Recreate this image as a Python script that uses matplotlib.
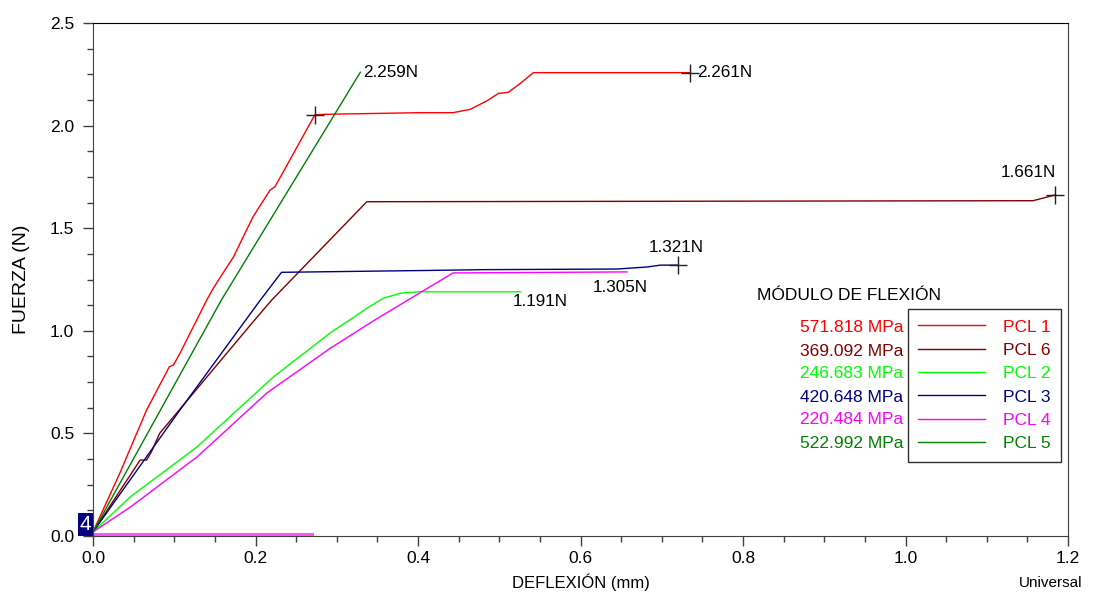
import matplotlib
matplotlib.use("Agg")
import matplotlib.pyplot as plt
from matplotlib.ticker import MultipleLocator

plt.rcParams['font.family'] = ['Liberation Sans', 'DejaVu Sans']

# curves (deflexion mm, fuerza N)
pcl1_x = [0, 0.033, 0.066, 0.094, 0.099, 0.107, 0.140, 0.148, 0.173, 0.197, 0.218, 0.224,
          0.232, 0.273, 0.286, 0.402, 0.443, 0.464, 0.485, 0.499, 0.511, 0.526, 0.542, 0.735]
pcl1_y = [0.02, 0.306, 0.614, 0.825, 0.833, 0.890, 1.150, 1.207, 1.361, 1.556, 1.686, 1.702,
          1.759, 2.052, 2.055, 2.063, 2.063, 2.079, 2.121, 2.157, 2.162, 2.206, 2.258, 2.258]

pcl6_x = [0, 0.058, 0.066, 0.072, 0.082, 0.199, 0.220, 0.337, 1.157, 1.184]
pcl6_y = [0.02, 0.370, 0.370, 0.411, 0.500, 1.053, 1.150, 1.629, 1.634, 1.662]

pcl2_x = [0, 0.046, 0.128, 0.222, 0.292, 0.316, 0.337, 0.357, 0.378, 0.400, 0.526]
pcl2_y = [0.02, 0.191, 0.434, 0.775, 0.990, 1.053, 1.110, 1.158, 1.183, 1.190, 1.190]

pcl3_x = [0, 0.107, 0.206, 0.232, 0.330, 0.410, 0.480, 0.645, 0.682, 0.698, 0.720]
pcl3_y = [0.02, 0.614, 1.150, 1.285, 1.290, 1.294, 1.298, 1.301, 1.311, 1.320, 1.320]

pcl4_x = [0, 0.046, 0.128, 0.214, 0.292, 0.347, 0.443, 0.657]
pcl4_y = [0.02, 0.141, 0.385, 0.697, 0.915, 1.053, 1.282, 1.287]
pcl4_base_x = [0, 0.27]
pcl4_base_y = [0.01, 0.01]

pcl5_x = [0, 0.158, 0.329]
pcl5_y = [0.02, 1.150, 2.260]

legend_names = ['PCL 1', 'PCL 6', 'PCL 2', 'PCL 3', 'PCL 4', 'PCL 5']
moduli = [571.818, 369.092, 246.683, 420.648, 220.484, 522.992]
colors = ['#ff0000', '#800000', '#00ff00', '#000080', '#ff00ff', '#008000']

fig = plt.figure(figsize=(10.94, 5.93), dpi=100)
ax = fig.add_axes([93/1094, 1 - 536/593, (1068 - 93)/1094, (536 - 23)/593])

series = [(pcl1_x, pcl1_y), (pcl6_x, pcl6_y), (pcl2_x, pcl2_y),
          (pcl3_x, pcl3_y), (pcl4_x, pcl4_y), (pcl5_x, pcl5_y)]
handles = []
for (xs, ys), c, n in zip(series, colors, legend_names):
    h, = ax.plot(xs, ys, color=c, lw=1.0, label=n)
    handles.append(h)
ax.plot(pcl4_base_x, pcl4_base_y, color='#ff55ff', lw=2.2)

# break / peak markers
cross = dict(marker='+', color='#202020', ms=13, mew=1.0, ls='none')
ax.plot([pcl1_x[13]], [pcl1_y[13]], **cross)
ax.plot([pcl1_x[-1]], [pcl1_y[-1]], **cross)
ax.plot([pcl6_x[-1]], [pcl6_y[-1]], **cross)
ax.plot([pcl3_x[-1]], [pcl3_y[-1]], **cross)

lab = dict(fontsize=12.3, color='black', textcoords='offset points')
ax.annotate('2.259N', (pcl5_x[-1], pcl5_y[-1]), xytext=(2, 0), ha='left', va='center', **lab)
ax.annotate('2.261N', (pcl1_x[-1], pcl1_y[-1]), xytext=(5, 0), ha='left', va='center', **lab)
ax.annotate('1.661N', (pcl6_x[-1], pcl6_y[-1]), xytext=(1, 16), ha='right', va='center', **lab)
ax.annotate('1.321N', (pcl3_x[-1], pcl3_y[-1]), xytext=(-1, 13), ha='center', va='center', **lab)
ax.annotate('1.305N', (pcl4_x[-1], pcl4_y[-1]), xytext=(-5, -11), ha='center', va='center', **lab)
ax.annotate('1.191N', (pcl2_x[-1], pcl2_y[-1]), xytext=(14, -7), ha='center', va='center', **lab)

ax.text(-0.002, 0.008, '4', color='white', fontsize=15, ha='right', va='bottom',
        bbox=dict(boxstyle='square,pad=0.1', fc='#000080', ec='none'))

ax.set_xlim(0, 1.2)
ax.set_ylim(0, 2.5)
ax.xaxis.set_major_locator(MultipleLocator(0.2))
ax.xaxis.set_minor_locator(MultipleLocator(0.05))
ax.yaxis.set_major_locator(MultipleLocator(0.5))
ax.yaxis.set_minor_locator(MultipleLocator(0.125))
ax.xaxis.set_major_formatter(plt.FormatStrFormatter('%.1f'))
ax.yaxis.set_major_formatter(plt.FormatStrFormatter('%.1f'))
ax.tick_params(which='major', length=7.5, width=1, color='#404040', labelsize=12.5)
ax.tick_params(which='minor', length=4, width=1, color='#404040')
ax.tick_params(axis='x', which='major', pad=3)
ax.tick_params(axis='y', which='major', pad=6)
for s in ax.spines.values():
    s.set_color('#404040')
ax.spines['top'].set_color('black')

ax.set_xlabel('DEFLEXIÓN (mm)', fontsize=12, labelpad=6)
ax.set_ylabel('FUERZA (N)', fontsize=14, labelpad=14)

leg = ax.legend(handles=handles, loc='upper left', bbox_to_anchor=(908/1094, 1 - 309/593),
                bbox_transform=fig.transFigure, prop={'size': 12.5},
                frameon=True, fancybox=False, edgecolor='#303030', framealpha=1,
                handlelength=3.85, handletextpad=1.0, labelspacing=0.47, borderpad=0.6,
                borderaxespad=0)
leg.get_frame().set_linewidth(1.0)
for t, c in zip(leg.get_texts(), colors):
    t.set_color(c)

fig.text(757/1094, 1 - 296/593, 'MÓDULO DE FLEXIÓN', fontsize=12.5, ha='left', va='center')
row_y = [328, 351, 374, 397, 420, 443]
for m, c, yy in zip(moduli, colors, row_y):
    fig.text(903/1094, 1 - yy/593, f'{m:.3f} MPa', color=c, fontsize=12.5,
             ha='right', va='center')

fig.text(1082/1094, 1 - 583/593, 'Universal', fontsize=11, ha='right', va='center')

fig.savefig('out.png', dpi=100)
